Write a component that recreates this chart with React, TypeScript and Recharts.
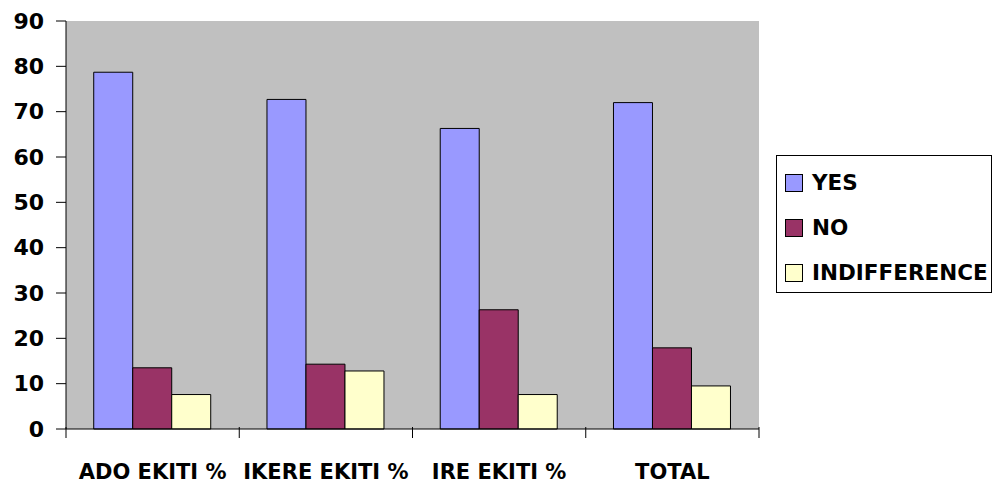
import { BarChart, Bar, XAxis, YAxis, CartesianGrid } from 'recharts';

const towns = ['ADO EKITI %', 'IKERE EKITI %', 'IRE EKITI %', 'TOTAL'];
const yes = [78.7, 72.7, 66.3, 72.0];
const no = [13.5, 14.3, 26.3, 17.9];
const indifference = [7.6, 12.8, 7.6, 9.5];
const yTicks = [0, 10, 20, 30, 40, 50, 60, 70, 80, 90];

const seriesNames = ['YES', 'NO', 'INDIFFERENCE'];
const seriesColors = ['#9999ff', '#993366', '#ffffcc'];

const data = towns.map((name, i) => ({
    name,
    YES: yes[i],
    NO: no[i],
    INDIFFERENCE: indifference[i],
}));

const W = 992;
const H = 493;
const M = { top: 21, right: 233, left: 10, bottom: 0 };
const Y_W = 56;
const X_H = 64;
const plotW = W - M.left - M.right - Y_W;
const font = '"DejaVu Sans", sans-serif';

const XTick = (props: any) => {
    const { x, y, payload, index } = props;
    const step = plotW / towns.length;
    return (
        <g>
            <line x1={x - step / 2} y1={y - 10} x2={x - step / 2} y2={y + 1} stroke="#000" />
            {index === towns.length - 1 && (
                <line x1={x + step / 2} y1={y - 10} x2={x + step / 2} y2={y + 1} stroke="#000" />
            )}
            <text x={x} y={y + 27} dy="0.71em" textAnchor="middle" fontFamily={font} fontWeight="bold" fontSize={21} fill="#000">
                {payload.value}
            </text>
        </g>
    );
};

// legend drawn beside the plot, like the spreadsheet original
const LegendBox = () => (
    <div style={{ position: 'absolute', left: 776, top: 155, border: '1px solid #000', background: '#fff', width: 216, height: 138, boxSizing: 'border-box', paddingTop: 4, paddingLeft: 8 }}>
        {seriesNames.map((n, i) => (
            <div key={n} style={{ display: 'flex', alignItems: 'center', height: 45, fontFamily: font, fontWeight: 'bold', fontSize: 21.5, color: '#000' }}>
                <span style={{ width: 16, height: 16, border: '1px solid #000', background: seriesColors[i], marginRight: 9, display: 'inline-block' }} />
                {n}
            </div>
        ))}
    </div>
);

export default function App() {
    return (
        <div style={{ position: 'absolute', left: 0, top: 0, width: W, height: H, background: '#fff' }}>
            <BarChart width={W} height={H} data={data} margin={M} barCategoryGap="16%" barGap={0}>
                <CartesianGrid fill="#c0c0c0" horizontal={false} vertical={false} />
                <XAxis dataKey="name" height={X_H} tickLine={false} axisLine={{ stroke: '#000' }} tick={<XTick />} interval={0} />
                <XAxis xAxisId="top" dataKey="name" orientation="top" height={0} tick={false} tickLine={false} axisLine={{ stroke: '#888' }} />
                <YAxis
                    domain={[0, 90]}
                    ticks={yTicks}
                    width={Y_W}
                    tickSize={10}
                    tickMargin={12}
                    axisLine={{ stroke: '#000' }}
                    tickLine={{ stroke: '#000' }}
                    tick={{ fontFamily: font, fontWeight: 'bold', fontSize: 22, fill: '#000' }}
                    interval={0}
                />
                <YAxis yAxisId="right" orientation="right" width={0} tick={false} tickLine={false} axisLine={{ stroke: '#888' }} />
                {seriesNames.map((n, i) => (
                    <Bar key={n} dataKey={n} fill={seriesColors[i]} stroke="#000" strokeWidth={1} isAnimationActive={false} />
                ))}
            </BarChart>
            <LegendBox />
        </div>
    );
}
